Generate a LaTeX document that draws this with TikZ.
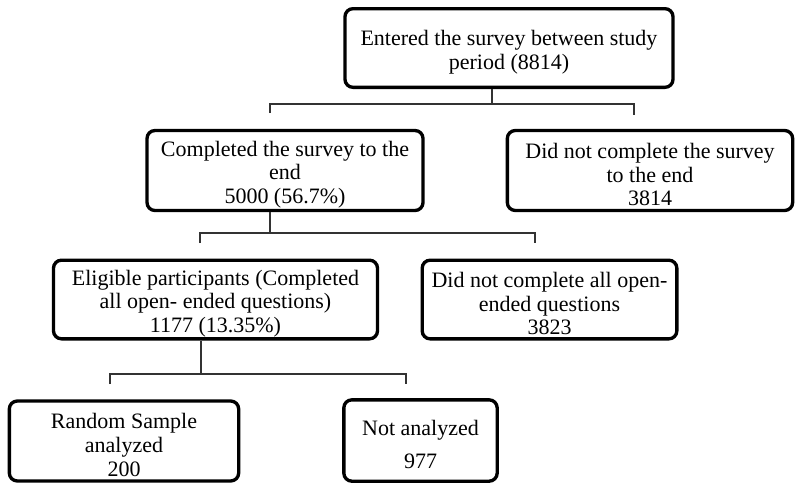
\documentclass[tikz,border=0pt]{standalone}
\usepackage{fontspec}
\setmainfont{Liberation Serif}
\newcommand{\topgap}{\rule{0pt}{17.5pt}}
\begin{document}
\begin{tikzpicture}[x=0.75pt,y=-0.75pt,
    box/.style={draw,line width=2.5pt,rounded corners=6pt,align=center,inner sep=0pt,
        font=\fontsize{16.5}{17.8}\selectfont},
    link/.style={line width=1pt,draw=black!80}]
    \useasboundingbox (0,0) rectangle (800,490);
    \node[box,minimum width=246pt,minimum height=59pt] (top) at (509,48) {\topgap Entered the survey between study\\period (8814)};
    \node[box,minimum width=207pt,minimum height=60pt] (done) at (285,170.5) {\topgap Completed the survey to the\\end\\5000 (56.7\%)};
    \node[box,minimum width=214pt,minimum height=60pt] (notdone) at (650,170.5) {\topgap Did not complete the survey\\to the end\\3814};
    \node[box,minimum width=243pt,minimum height=59pt] (elig) at (215.5,299.5) {\topgap Eligible participants (Completed\\all open- ended questions)\\1177 (13.35\%)};
    \node[box,minimum width=191pt,minimum height=59pt] (notall) at (549.5,299.5) {\topgap Did not complete all open-\\ended questions\\3823};
    \node[box,minimum width=172pt,minimum height=60pt] (sample) at (124,441) {\topgap Random Sample\\analyzed\\200};
    \node[box,minimum width=115pt,minimum height=61pt] (notana) at (420.5,440.5) {\topgap Not analyzed\\[7pt]977};
    \coordinate (j1) at (492,104); \coordinate (t1a) at (270,113); \coordinate (t1b) at (634,115);
    \coordinate (j2) at (270,233); \coordinate (t2a) at (200,243); \coordinate (t2b) at (535,243);
    \coordinate (j3) at (201,374); \coordinate (t3a) at (110,384); \coordinate (t3b) at (406,384);
    \draw[link] (top.south -| j1) -- (j1);
    \draw[link] (t1a) |- (j1) -| (t1b);
    \draw[link] (done.south -| j2) -- (j2);
    \draw[link] (t2a) |- (j2) -| (t2b);
    \draw[link] (elig.south -| j3) -- (j3);
    \draw[link] (t3a) |- (j3) -| (t3b);
\end{tikzpicture}
\end{document}
